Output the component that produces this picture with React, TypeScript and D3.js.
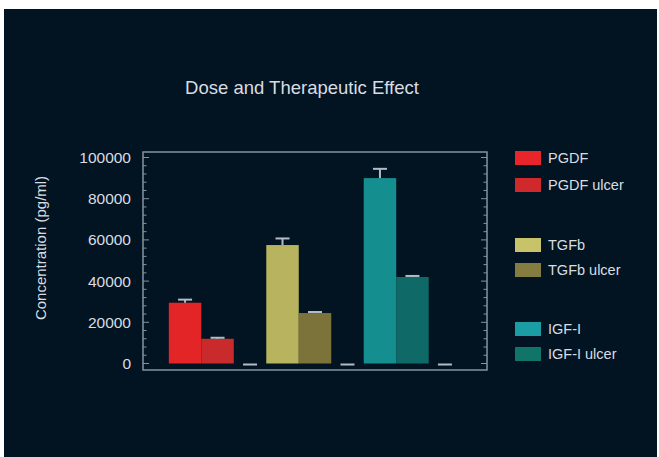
import React from "react";
import * as d3 from "d3";

const groups = ["PGDF", "TGFb", "IGF-I"];
const seriesKeys = ["normal", "ulcer", "control"];
const normalValues = [29500, 57500, 90000];
const normalErrors = [1500, 3200, 4500];
const ulcerValues = [12000, 24500, 42000];
const ulcerErrors = [500, 500, 500];
const controlValues = [0, 0, 0];
const controlErrors = [0, 0, 0];
const normalColors = ["#e32528", "#b8b35e", "#148e8e"];
const ulcerColors = ["#c92b2c", "#7b733a", "#0f6a67"];
const legendLabels = ["PGDF", "PGDF ulcer", "TGFb", "TGFb ulcer", "IGF-I", "IGF-I ulcer"];
const legendColors = ["#e8252a", "#d0292c", "#c8c26a", "#857c42", "#1a9da3", "#117468"];
const yTicks = [0, 20000, 40000, 60000, 80000, 100000];
const title = "Dose and Therapeutic Effect";
const yLabel = "Concentration (pg/ml)";

export default function App() {
  const W = 659, H = 457;
  const plotL = 143, plotR = 487;
  const y = d3.scaleLinear().domain([0, 100000]).range([363.5, 157.5]);
  const frameTop = y(100000) - 5.5;
  const frameBot = y(0) + 6.5;
  const x0 = d3.scaleBand<string>().domain(groups).range([plotL, plotR]).paddingInner(0).paddingOuter(0.265);
  const x1 = d3.scaleBand<string>().domain(seriesKeys).range([0, x0.bandwidth()]).padding(0);
  const minorTicks = d3.range(0, 100001, 4000);
  const textColor = "#d9dde2";
  const frameColor = "#8592a0";
  const font = "'Liberation Sans', Arial, sans-serif";

  const bars: any[] = [];
  groups.forEach((g, i) => {
    const vals = [normalValues[i], ulcerValues[i], controlValues[i]];
    const errs = [normalErrors[i], ulcerErrors[i], controlErrors[i]];
    const cols = [normalColors[i], ulcerColors[i], "none"];
    seriesKeys.forEach((k, j) => {
      bars.push({ g, k, v: vals[j], e: errs[j], c: cols[j], key: g + k });
    });
  });

  const legendY = [158, 185, 245, 270, 329, 354];

  return (
    <svg width={W} height={H} style={{ position: "absolute", left: 0, top: 0 }} fontFamily={font}>
      <rect x={0} y={0} width={W} height={H} fill="#ffffff" />
      <rect x={4} y={9} width={653} height={H - 9} fill="#021421" />
      <text x={302} y={94} textAnchor="middle" fill={textColor} fontSize={18.5}>{title}</text>
      <text transform={`translate(46,${248}) rotate(-90)`} textAnchor="middle" fill={textColor} fontSize={15}>{yLabel}</text>
      {yTicks.map((t) => (
        <text key={t} x={131} y={y(t) + 5.5} textAnchor="end" fill={textColor} fontSize={15.5}>{t}</text>
      ))}
      {bars.map((b) => {
        const bx = (x0(b.g) as number) + (x1(b.k) as number);
        const bw = x1.bandwidth();
        const cx = bx + bw / 2;
        return (
          <g key={b.key}>
            {b.v > 0 && <rect x={bx} y={y(b.v)} width={bw} height={y(0) - y(b.v)} fill={b.c} />}
            <line x1={cx} x2={cx} y1={y(b.v)} y2={y(b.v + b.e)} stroke="#b3bcc5" strokeWidth={2} />
            <line x1={cx - 7} x2={cx + 7} y1={y(b.v + b.e) + (b.v > 0 ? 0 : 1)} y2={y(b.v + b.e) + (b.v > 0 ? 0 : 1)} stroke="#b3bcc5" strokeWidth={2} />
          </g>
        );
      })}
      <rect x={plotL} y={frameTop} width={plotR - plotL} height={frameBot - frameTop} fill="none" stroke={frameColor} strokeWidth={1.5} />
      {minorTicks.map((t) => (
        <g key={t}>
          <line x1={plotL} x2={plotL + (t % 20000 === 0 ? 6 : 3.5)} y1={y(t)} y2={y(t)} stroke={frameColor} strokeWidth={1} />
          <line x1={plotR} x2={plotR - (t % 20000 === 0 ? 6 : 3.5)} y1={y(t)} y2={y(t)} stroke={frameColor} strokeWidth={1} />
        </g>
      ))}
      {legendLabels.map((l, i) => (
        <g key={l}>
          <rect x={515} y={legendY[i] - 7} width={26} height={14} fill={legendColors[i]} />
          <text x={548} y={legendY[i] + 5} fill={textColor} fontSize={14.5}>{l}</text>
        </g>
      ))}
    </svg>
  );
}
